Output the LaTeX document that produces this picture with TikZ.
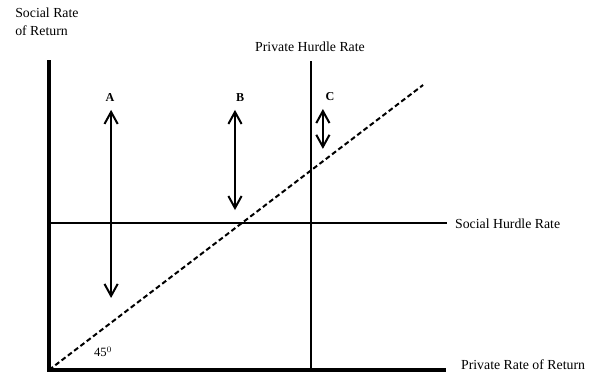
\documentclass[tikz,border=0pt]{standalone}
\usepackage{fontspec}
\setmainfont{Liberation Serif}
\usetikzlibrary{arrows.meta}
\tikzset{
  axisline/.style={line width=3.2pt},
  hurdle/.style={line width=2pt},
  diagline/.style={line width=1.9pt, dash pattern=on 4.7pt off 2.8pt},
  gaparrow/.style={{Straight Barb[length=4mm,width=4.4mm]}-{Straight Barb[length=4mm,width=4.4mm]},
    line width=1.9pt},
  lbl/.style={font=\fontsize{13.1}{16.5}\selectfont, inner sep=0pt},
  tag/.style={font=\fontsize{11.5}{13}\selectfont\bfseries, inner sep=0pt},
}

\begin{document}
\begin{tikzpicture}

  \useasboundingbox (-1.633,-0.1) rectangle (18.0,12.333);

  % ---------- axes ----------
  \coordinate (O) at (0,0);
  \coordinate (ytop) at (0,10.33);
  \coordinate (xend) at (13.23,0);
  \draw[axisline] (ytop) -- (O) -- (xend);
  \node[lbl, align=left, anchor=north west] (ylab) at (-1.13,12.07) {Social Rate\\of Return};
  \node[lbl, anchor=base west] (xlab) at (13.73,0) {Private Rate of Return};

  % ---------- hurdle rates ----------
  \coordinate (sh0) at (0,4.91);
  \coordinate (sh1) at (13.27,4.91);
  \draw[hurdle] (sh0) -- (sh1);
  \node[lbl, anchor=west] (shlab) at (13.53,4.87) {Social Hurdle Rate};

  \coordinate (ph0) at (8.72,0);
  \coordinate (ph1) at (8.72,10.3);
  \draw[hurdle] (ph0) -- (ph1);
  \node[lbl] (phlab) at (8.7,10.77) {Private Hurdle Rate};

  % ---------- 45 degree line ----------
  \coordinate (dend) at (12.47,9.5);
  \draw[diagline] (O) -- (dend);
  \node[lbl, font=\fontsize{12}{14}\selectfont] (deg) at (1.8,0.6) {45$^0$};

  % ---------- gaps ----------
  \node[tag] (A) at (2.03,9.07) {A};
  \node[tag] (B) at (6.37,9.07) {B};
  \node[tag] (C) at (9.37,9.1) {C};
  \coordinate (a1) at (2.07,8.67);  \coordinate (a2) at (2.07,2.4);
  \coordinate (b1) at (6.2,8.67);   \coordinate (b2) at (6.2,5.33);
  \coordinate (c1) at (9.13,8.7);   \coordinate (c2) at (9.13,7.37);
  \draw[gaparrow] (a1) -- (a2);
  \draw[gaparrow] (b1) -- (b2);
  \draw[gaparrow] (c1) -- (c2);

\end{tikzpicture}
\end{document}
